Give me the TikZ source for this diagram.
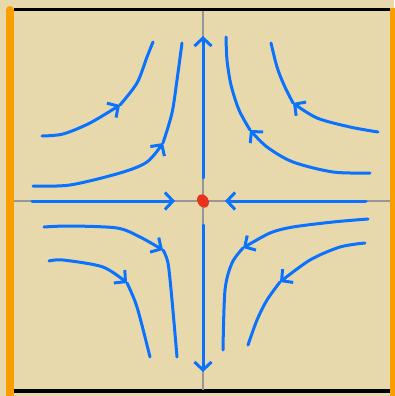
\documentclass[tikz,border=0pt]{standalone}
\usetikzlibrary{arrows.meta}
\definecolor{parch}{RGB}{232,217,172}
\definecolor{penblue}{RGB}{10,114,252}
\definecolor{frameorange}{RGB}{250,158,0}
\definecolor{axisgray}{RGB}{150,150,150}
\definecolor{dotred}{RGB}{232,52,30}
\tikzset{
  pen/.style={draw=penblue, line width=3pt, line cap=round, line join=round},
  tip/.style={pen, -{Straight Barb[length=8pt,width=17pt]}},
  axisline/.style={draw=axisgray, line width=1.6pt},
}
\begin{document}
\begin{tikzpicture}[x=1pt,y=-1pt]
\useasboundingbox (0,0) rectangle (394,396);
\fill[parch] (0,0) rectangle (394,396);
% frame
\draw[black, line width=3.5pt] (14,9.5) -- (390,9.5);
\draw[black, line width=3.5pt] (14,391) -- (390,391);
\draw[frameorange, line width=8pt, line cap=round] (10,10) -- (10,400);
\draw[frameorange, line width=8pt] (394,8) -- (394,400);
% axes
\draw[axisline] (14,201) -- (390,201);
\draw[axisline] (203,11) -- (203,390);
% straight trajectories
\draw[tip] (203,178) -- (203,36);
\draw[tip] (203,225) -- (203,372);
\draw[tip] (32,201) -- (175,201);
\draw[tip] (366,201) -- (225,201);
% curve A
\draw[tip] plot[smooth] coordinates {(42,136) (63,134) (90,123) (120,105)};
\draw[pen] plot[smooth] coordinates {(120,105) (137,83) (147,57) (153,42)};
% curve B
\draw[tip] plot[smooth] coordinates {(33,186) (70,185) (120,173) (147,162) (163,143)};
\draw[pen] plot[smooth] coordinates {(163,143) (172,113) (177,80) (182,43)};
% curve C
\draw[tip] plot[smooth] coordinates {(370,173) (333,172) (293,162) (267,147) (250,130)};
\draw[pen] plot[smooth] coordinates {(250,130) (239,110) (231,85) (227,60) (226,37)};
% curve D
\draw[tip] plot[smooth] coordinates {(378,132) (350,127) (317,118) (293,103)};
\draw[pen] plot[smooth] coordinates {(293,103) (284,85) (277,67) (271,43)};
% curve E
\draw[tip] plot[smooth] coordinates {(44,227) (70,226) (117,228) (140,237) (163,250)};
\draw[pen] plot[smooth] coordinates {(163,250) (168,263) (172,300) (177,357)};
% curve F
\draw[tip] plot[smooth] coordinates {(49,261) (63,260) (103,267) (127,283)};
\draw[pen] plot[smooth] coordinates {(127,283) (137,307) (150,357)};
% curve G
\draw[tip] plot[smooth] coordinates {(368,219) (333,222) (293,227) (270,233) (243,248)};
\draw[pen] plot[smooth] coordinates {(243,248) (232,263) (225,290) (223,350)};
% curve H
\draw[tip] plot[smooth] coordinates {(365,243) (340,247) (310,260) (280,282)};
\draw[pen] plot[smooth] coordinates {(280,282) (267,300) (257,320) (248,345)};
% equilibrium point
\fill[dotred, rotate around={-60:(203,201)}] (203,201) ellipse (7pt and 5.5pt);
\end{tikzpicture}
\end{document}
